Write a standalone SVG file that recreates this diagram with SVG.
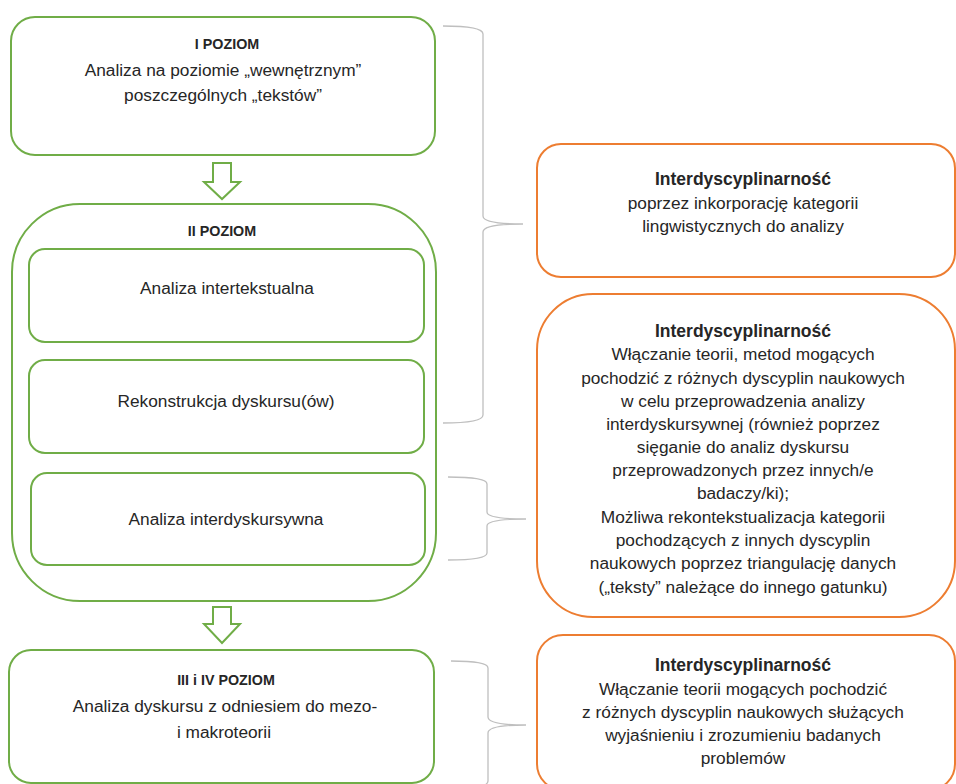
<svg xmlns="http://www.w3.org/2000/svg" width="956" height="784" viewBox="0 0 956 784">
<style>
.g{fill:#fff;stroke:#70ad47;stroke-width:2}
.o{fill:#fff;stroke:#ed7d31;stroke-width:2}
.br{fill:none;stroke:#bfbfbf;stroke-width:1.3}
.ar{fill:#fff;stroke:#70ad47;stroke-width:2;stroke-linejoin:miter}
text{font-family:"Liberation Sans",Arial,sans-serif;fill:#262626;text-anchor:middle}
.t{font-size:17.3px}
.b{font-size:14.3px;font-weight:bold}
.h{font-size:17.5px;font-weight:bold}
</style>
<rect width="956" height="784" fill="#fff"/>
<g id="connectors">
<path class="ar" d="M213,163 L231,163 L231,182 L240,182 L222,199 L204,182 L213,182 Z"/>
<path class="ar" d="M213,607 L231,607 L231,624 L240,624 L222,643 L204,624 L213,624 Z"/>
<path class="br" d="M443,26 Q483,26 483,34 L483,216 Q483,224 523,224 Q483,224 483,232 L483,415 Q483,423 443,423"/>
<path class="br" d="M448,477 Q487,477 487,484 L487,512 Q487,519 526,519 Q487,519 487,526 L487,553 Q487,560 448,560"/>
<path class="br" d="M451,661 Q488,661 488,668 L488,717 Q488,725 526,725 Q488,725 488,733 L488,781 Q488,789 451,789"/>
</g>
<g id="level1">
<rect class="g" x="11" y="17" width="424" height="138" rx="24"/>
<text class="b" x="227" y="49">I POZIOM</text>
<text class="t" x="223" y="76">Analiza na poziomie „wewnętrznym”</text>
<text class="t" x="223" y="101">poszczególnych „tekstów”</text>
</g>
<g id="level2">
<rect class="g" x="12" y="204" width="424" height="397" rx="68"/>
<text class="b" x="222" y="236">II POZIOM</text>
</g>
<g id="intertext">
<rect class="g" x="29" y="249" width="395" height="93" rx="16"/>
<text class="t" x="227" y="294">Analiza intertekstualna</text>
</g>
<g id="reconstruction">
<rect class="g" x="29" y="360" width="395" height="93" rx="16"/>
<text class="t" x="226" y="407">Rekonstrukcja dyskursu(ów)</text>
</g>
<g id="interdiscursive">
<rect class="g" x="31" y="473" width="394" height="92" rx="16"/>
<text class="t" x="226" y="525">Analiza interdyskursywna</text>
</g>
<g id="level34">
<rect class="g" x="9" y="650" width="425" height="133" rx="22"/>
<text class="b" x="226" y="685">III i IV POZIOM</text>
<text class="t" x="225" y="712">Analiza dyskursu z odniesiem do mezo-</text>
<text class="t" x="224" y="738">i makroteorii</text>
</g>
<g id="interdisc1">
<rect class="o" x="537" y="144" width="418" height="133" rx="24"/>
<text class="h" x="743" y="185">Interdyscyplinarność</text>
<text class="t" x="743" y="209">poprzez inkorporację kategorii</text>
<text class="t" x="743" y="232">lingwistycznych do analizy</text>
</g>
<g id="interdisc2">
<rect class="o" x="537" y="294" width="418" height="323" rx="56"/>
<text class="h" x="743" y="337">Interdyscyplinarność</text>
<text class="t" x="743" y="360">Włączanie teorii, metod mogących</text>
<text class="t" x="743" y="384">pochodzić z różnych dyscyplin naukowych</text>
<text class="t" x="743" y="407">w celu przeprowadzenia analizy</text>
<text class="t" x="743" y="430">interdyskursywnej (również poprzez</text>
<text class="t" x="743" y="453">sięganie do analiz dyskursu</text>
<text class="t" x="743" y="476">przeprowadzonych przez innych/e</text>
<text class="t" x="743" y="499">badaczy/ki);</text>
<text class="t" x="743" y="523">Możliwa rekontekstualizacja kategorii</text>
<text class="t" x="743" y="546">pochodzących z innych dyscyplin</text>
<text class="t" x="743" y="569">naukowych poprzez triangulację danych</text>
<text class="t" x="743" y="593">(„teksty” należące do innego gatunku)</text>
</g>
<g id="interdisc3">
<rect class="o" x="537" y="635" width="418" height="155" rx="26"/>
<text class="h" x="743" y="671">Interdyscyplinarność</text>
<text class="t" x="743" y="695">Włączanie teorii mogących pochodzić</text>
<text class="t" x="743" y="718">z różnych dyscyplin naukowych służących</text>
<text class="t" x="743" y="741">wyjaśnieniu i zrozumieniu badanych</text>
<text class="t" x="743" y="764">problemów</text>
</g>
</svg>
